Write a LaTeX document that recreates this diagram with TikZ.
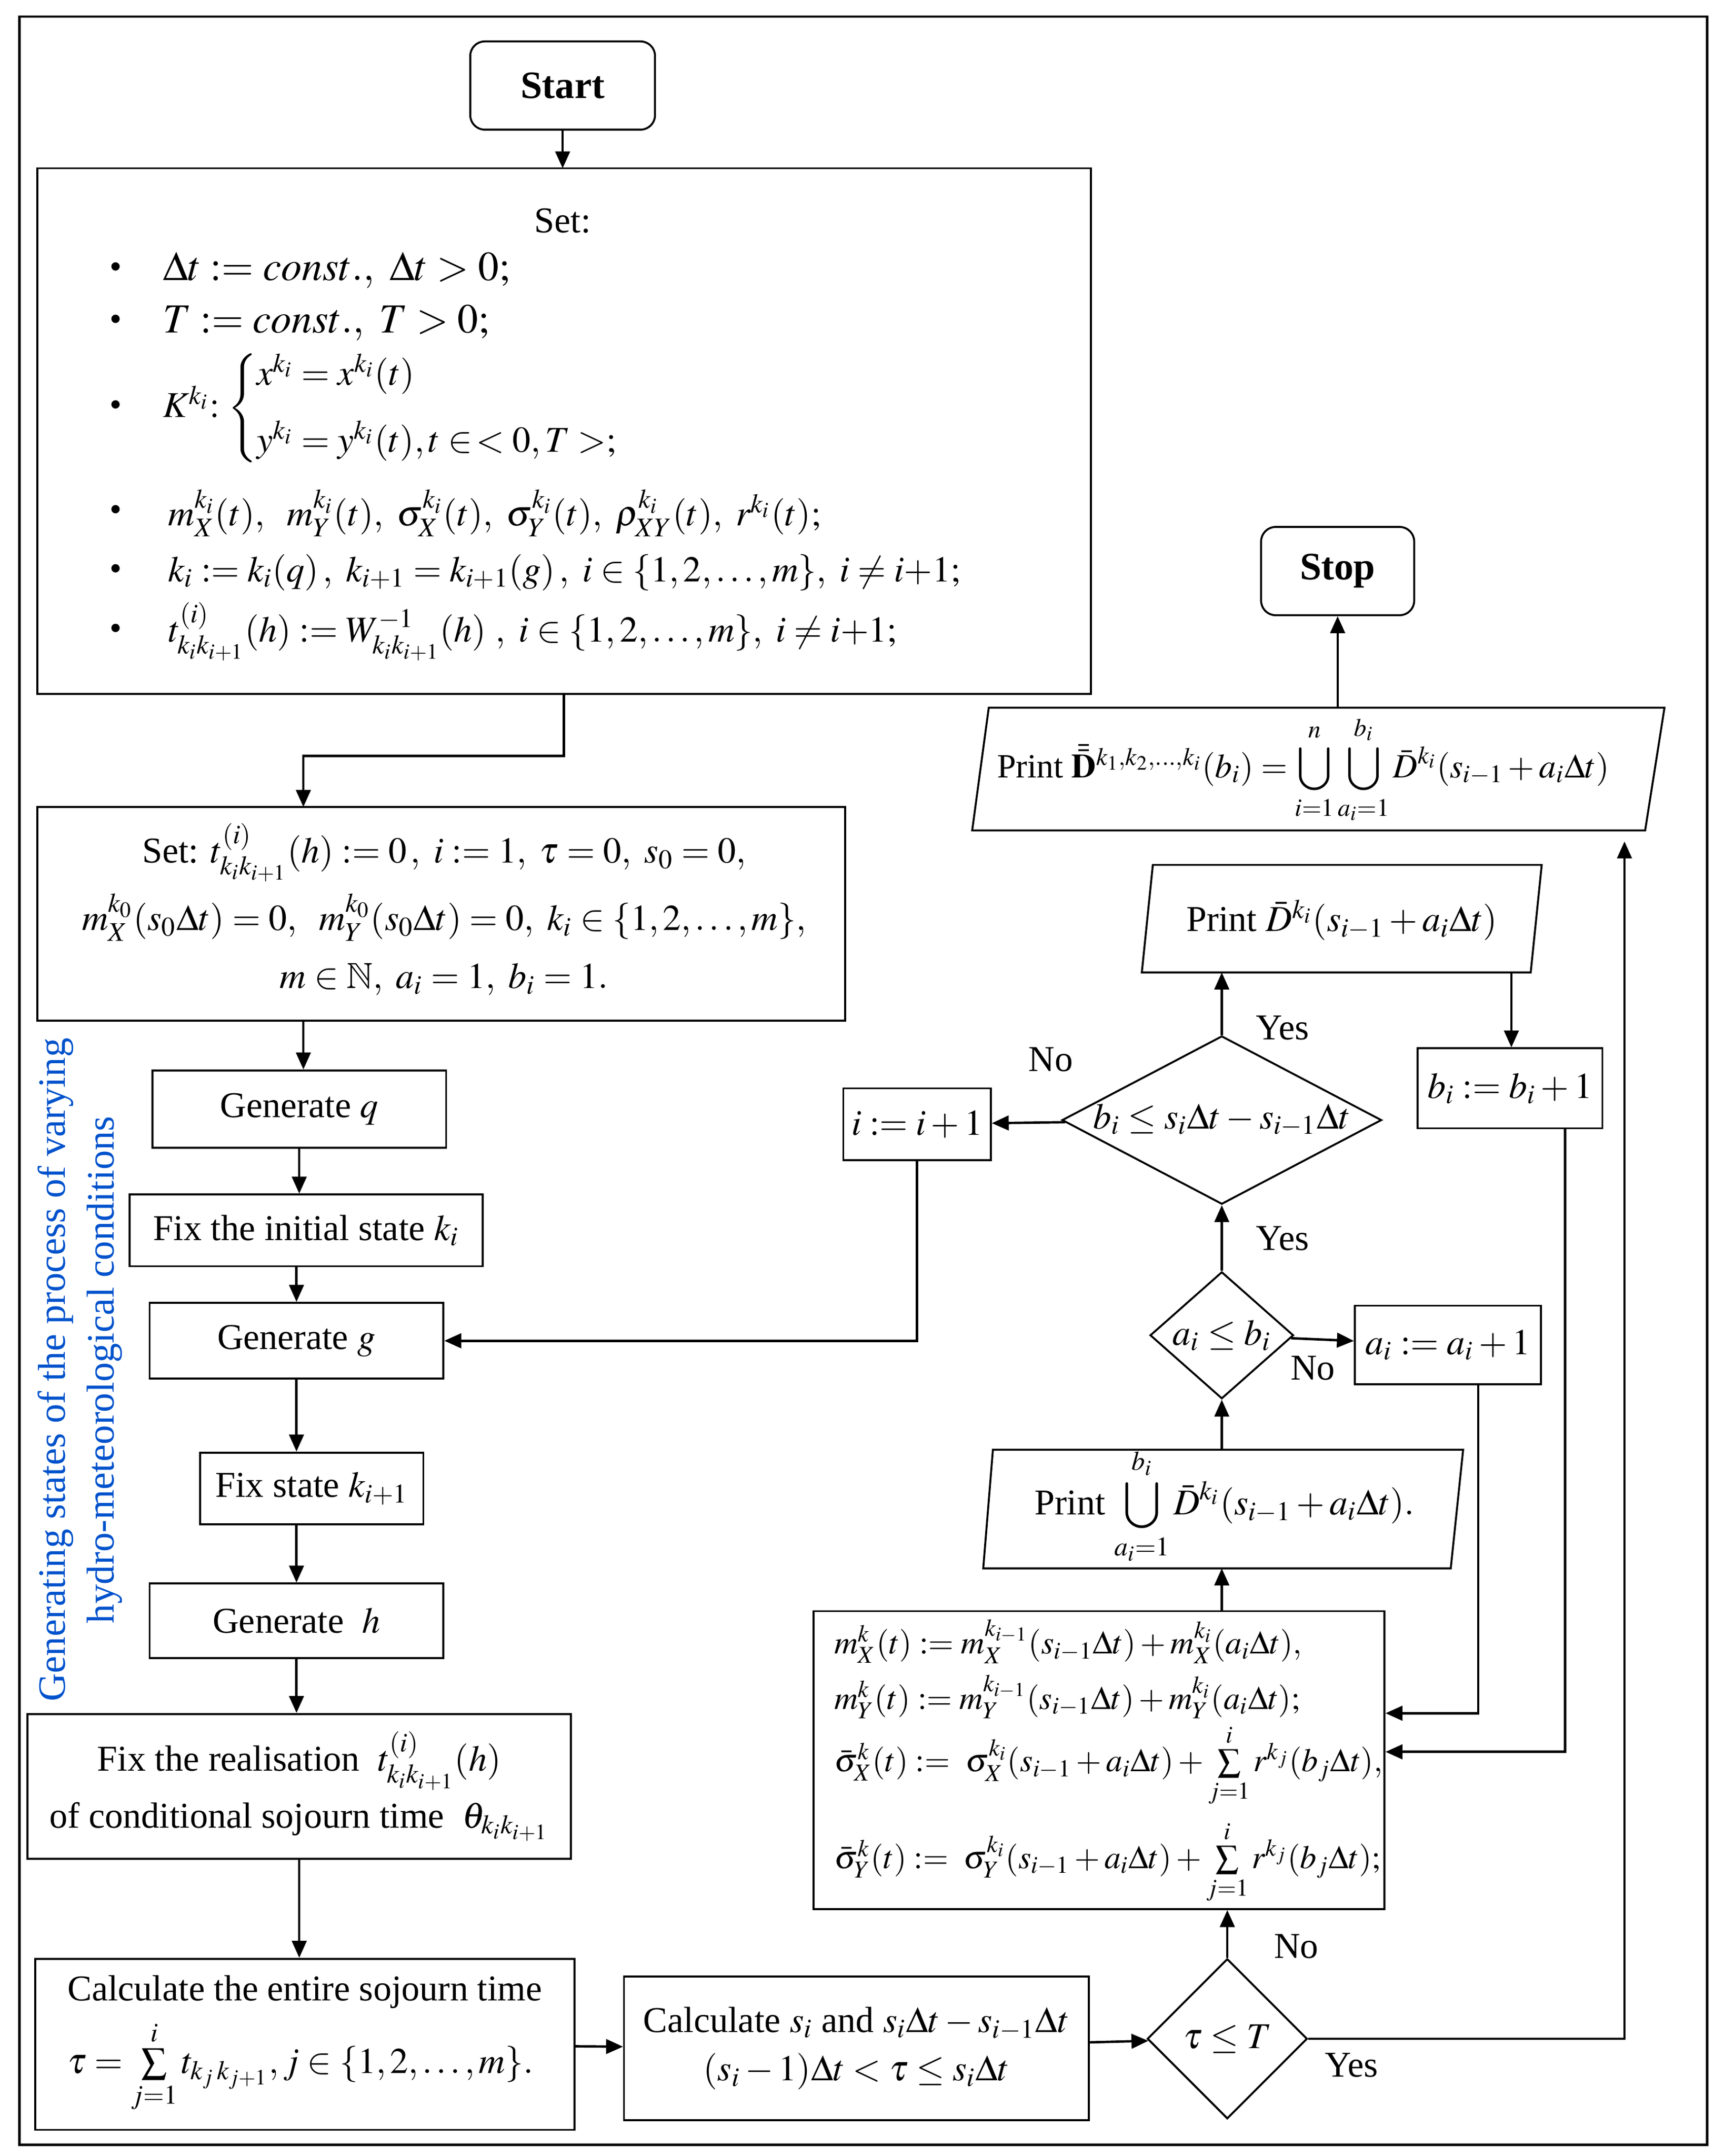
\documentclass[tikz,border=0pt]{standalone}
\usepackage{mathptmx}
\usepackage{amssymb}
\usepackage{amsmath}
\usepackage{fontspec}
\setmainfont{Liberation Serif}
\usetikzlibrary{shapes.geometric,arrows.meta}
\newsavebox{\mycasesbox}
\begin{document}
\fontsize{15}{18}\selectfont
\savebox{\mycasesbox}{$K^{k_i}\!\!:\begin{cases} x^{k_i}=x^{k_i}(t)\\[6pt] y^{k_i}=y^{k_i}(t), t\in\,<0,T>;\end{cases}$}
\begin{tikzpicture}[x=0.02cm,y=-0.02cm,
 box/.style={draw,line width=0.8pt,inner sep=0pt},
 arr/.style={-{Triangle[length=7pt,width=6pt]},line width=1pt},
 t/.style={inner sep=1pt},
 dia/.style={draw,diamond,aspect=1.9,inner sep=0pt,line width=0.8pt}]
\useasboundingbox (0,0) rectangle (1250,1563);
\draw[line width=1pt] (14,12) rectangle (1238,1555);
% boxes
\node[box,rounded corners=6pt,minimum width=134*0.02cm,minimum height=64*0.02cm,font=\bfseries\fontsize{16}{18}\selectfont] (start) at (408,62) {Start};
\draw[line width=0.8pt] (27,122) rectangle (791,503);
\coordinate (setT) at (408,122); \coordinate (setB) at (409,503);
\node[t] (s0) at (408,160) {Set:};
\foreach \y/\n in {196/a,234/b,296/c,372/d,415/e,458/f}{\node (bul\n) at (84,\y) {\Large\textbullet};}
\node[t,anchor=west,font=\fontsize{17}{20}\selectfont] (s1) at (116,196) {$\Delta t := const.,\ \Delta t>0;$};
\node[t,anchor=west,font=\fontsize{17}{20}\selectfont] (s2) at (116,234) {$T := const.,\ T>0;$};
\node[t,anchor=west] (s3) at (116,296) {\usebox{\mycasesbox}};
\node[t,anchor=west] (s4) at (120,372) {$m_X^{k_i}(t),\ \ m_Y^{k_i}(t),\ \sigma_X^{k_i}(t),\ \sigma_Y^{k_i}(t),\ \rho_{XY}^{k_i}(t),\ r^{k_i}(t);$};
\node[t,anchor=west] (s5) at (120,415) {$k_i := k_i(q)\,,\ k_{i+1}=k_{i+1}(g)\,,\ i\in\{1,2,\ldots,m\},\ i\neq i{+}1;$};
\node[t,anchor=west] (s6) at (120,458) {$t^{(i)}_{k_ik_{i+1}}(h) := W^{-1}_{k_ik_{i+1}}(h)\ ,\ i\in\{1,2,\ldots,m\},\ i\neq i{+}1;$};
\draw[line width=0.8pt] (27,585) rectangle (613,740);
\coordinate (s2T) at (220,585); \coordinate (s2B) at (220,740);
\node[t] (u1) at (322,618) {Set: $t^{(i)}_{k_ik_{i+1}}(h):=0\,,\ i:=1,\ \tau=0,\ s_0=0,$};
\node[t] (u2) at (322,665) {$m_X^{k_0}(s_0\Delta t)=0,\ \ m_Y^{k_0}(s_0\Delta t)=0,\ k_i\in\{1,2,\ldots,m\},$};
\node[t] (u3) at (322,710) {$m\in\mathbb{N},\ a_i=1,\ b_i=1.$};
\node[box,minimum width=213*0.02cm,minimum height=56*0.02cm] (gq) at (217,804) {Generate $q$};
\node[box,minimum width=256*0.02cm,minimum height=52*0.02cm] (fi) at (222,892) {Fix the initial state $k_i$};
\node[box,minimum width=213*0.02cm,minimum height=55*0.02cm] (gg) at (215,972) {Generate $g$};
\node[box,minimum width=162*0.02cm,minimum height=52*0.02cm] (fs) at (226,1079) {Fix state $k_{i+1}$};
\node[box,minimum width=213*0.02cm,minimum height=54*0.02cm] (gh) at (215,1175) {Generate\ \ $h$};
\node[box,minimum width=394*0.02cm,minimum height=105*0.02cm,align=center] (fr) at (217,1295) {Fix the realisation\ \ $t^{(i)}_{k_ik_{i+1}}(h)$\\[4pt] of conditional sojourn time\ \ $\theta_{k_ik_{i+1}}$};
\node[box,minimum width=391*0.02cm,minimum height=124*0.02cm,align=left] (ce) at (221,1482) {Calculate the entire sojourn time\\[4pt] $\tau=\sum\limits_{j=1}^{i}t_{k_j\,k_{j+1}},j\in\{1,2,\ldots,m\}.$};
\node[box,minimum width=337*0.02cm,minimum height=104*0.02cm,align=center] (cs) at (621,1485) {Calculate $s_i$ and $s_i\Delta t-s_{i-1}\Delta t$\\[2pt] $(s_i-1)\Delta t<\tau\le s_i\Delta t$};
\node[dia,minimum width=116*0.02cm,minimum height=116*0.02cm,aspect=1] (dt) at (890,1478) {$\tau\le T$};
\node[box,minimum width=414*0.02cm,minimum height=216*0.02cm] (mb) at (797,1276) {};
\begin{scope}[every node/.style={font=\fontsize{13.5}{16}\selectfont}]
\node[t,anchor=west] (m1) at (603,1190) {$m_X^k(t):=m_X^{k_{i-1}}(s_{i-1}\Delta t)+m_X^{k_i}(a_i\Delta t),$};
\node[t,anchor=west] (m2) at (603,1230) {$m_Y^k(t):=m_Y^{k_{i-1}}(s_{i-1}\Delta t)+m_Y^{k_i}(a_i\Delta t);$};
\node[t,anchor=west] (m3) at (603,1280) {$\bar\sigma_X^k(t):=\ \sigma_X^{k_i}(s_{i-1}+a_i\Delta t)+\sum\limits_{j=1}^{i}r^{k_j}(b_j\Delta t),$};
\node[t,anchor=west] (m4) at (603,1350) {$\bar\sigma_Y^k(t):=\ \sigma_Y^{k_i}(s_{i-1}+a_i\Delta t)+\sum\limits_{j=1}^{i}r^{k_j}(b_j\Delta t);$};
\end{scope}
% parallelograms
\draw[line width=0.8pt] (720,1051) -- (1061,1051) -- (1052,1137) -- (713,1137) -- cycle;
\node[t] (pu) at (888,1092) {Print $\displaystyle\bigcup_{a_i=1}^{b_i}\bar D^{k_i}(s_{i-1}+a_i\Delta t).$};
\coordinate (puT) at (886,1051); \coordinate (puB) at (886,1137);
\node[dia,minimum width=104*0.02cm,minimum height=92*0.02cm,aspect=1.1] (da) at (886,968) {$a_i\le b_i$};
\node[box,minimum width=135*0.02cm,minimum height=57*0.02cm] (ai) at (1050,975) {$a_i:=a_i+1$};
\node[dia,minimum width=220*0.02cm,minimum height=115*0.02cm] (db) at (886,812) {$b_i\le s_i\Delta t-s_{i-1}\Delta t$};
\node[box,minimum width=107*0.02cm,minimum height=52*0.02cm] (ii) at (665,815) {$i:=i+1$};
\node[box,minimum width=134*0.02cm,minimum height=58*0.02cm] (bb) at (1095,789) {$b_i:=b_i+1$};
\draw[line width=0.8pt] (836,627) -- (1118,627) -- (1110,705) -- (828,705) -- cycle;
\node[t] (pd) at (973,667) {Print $\bar D^{k_i}(s_{i-1}+a_i\Delta t)$};
\draw[line width=0.8pt] (717,513) -- (1207,513) -- (1193,602) -- (705,602) -- cycle;
\node[t,font=\fontsize{14}{16}\selectfont] (pb) at (945,558) {Print $\bar{\bar{\mathbf D}}{}^{k_1,k_2,\ldots,k_i}(b_i)=\displaystyle\bigcup_{i=1}^{n}\bigcup_{a_i=1}^{b_i}\bar D^{k_i}(s_{i-1}+a_i\Delta t)$};
\node[box,rounded corners=6pt,minimum width=111*0.02cm,minimum height=64*0.02cm,font=\bfseries\fontsize{16}{18}\selectfont] (stop) at (970,414) {Stop};
% side text
\node[rotate=90,text=blue!60!cyan!80!black,align=center,font=\fontsize{16}{20}\selectfont] (side) at (58,993) {Generating states of the process of varying\\ hydro-meteorological conditions};
% arrows
\draw[arr] (start) -- (setT);
\draw[arr] (setB) -- (409,548) -- (220,548) -- (s2T);
\draw[arr] (s2B) -- (gq.north -| s2B);
\draw[arr] (gq) -- (gq.south |- fi.north);
\draw[arr] (fi.south -| gg) -- (gg);
\draw[arr] (gg.south) -- (gg.south |- fs.north);
\draw[arr] (fs.south -| gh) -- (gh);
\draw[arr] (gh) -- (gh.south |- fr.north);
\draw[arr] (fr) -- (fr.south |- ce.north);
\draw[arr] (ce) -- (cs);
\draw[arr] (cs) -- (dt);
\draw[arr] (dt.east) -- (1178,1478) -- (1178,610);
\node[t] (yes1) at (980,1497) {Yes};
\draw[arr] (dt) -- (mb.south -| dt);
\node[t] (no1) at (940,1411) {No};
\draw[arr] (mb.north -| puB) -- (puB);
\draw[arr] (puT) -- (da);
\draw[arr] (da) -- (ai);
\node[t] (no2) at (952,992) {No};
\draw[arr] (ai.south -| 1072,0) -- (1072,1242) -- (mb.east |- 0,1242);
\draw[arr] (da) -- (db);
\node[t] (yes2) at (930,898) {Yes};
\draw[arr] (db) -- (ii);
\node[t] (no3) at (762,768) {No};
\draw[arr] (ii) -- (665,972) -- (gg);
\draw[arr] (db) -- (886,705);
\node[t] (yes3) at (930,745) {Yes};
\draw[arr] (1096,705) -- (bb.north -| 1096,0);
\draw[arr] (bb.south -| 1135,0) -- (1135,1270) -- (mb.east |- 0,1270);
\draw[arr] (970,513) -- (stop);
\end{tikzpicture}
\end{document}
